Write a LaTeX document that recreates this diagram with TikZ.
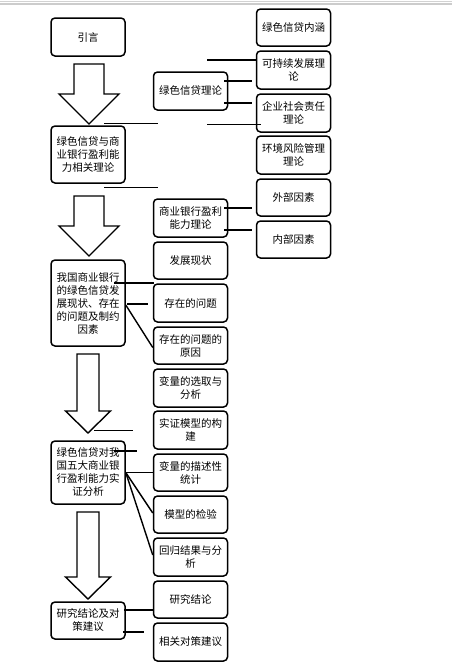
\documentclass[tikz,border=0pt]{standalone}
\usepackage{fontspec}
\setmainfont{Noto Sans CJK SC}
\usetikzlibrary{calc}

\tikzset{
  box/.style={draw, line width=1.5pt, rounded corners=4pt, minimum width=74pt,
    align=center, inner sep=1pt,
    font=\fontsize{10.5pt}{13pt}\selectfont},
  link/.style={line width=1.4pt},
  bigarrow/.style={line width=1.4pt, line join=miter}
}

\begin{document}
\begin{tikzpicture}[x=1pt, y=-1pt]
  \useasboundingbox (0,0) rectangle (452,670);
  % Grey rule at the top.
  \draw[gray!35, line width=1.2pt] (0,1.5) -- (452,1.5);
  \draw[gray!40, line width=1.2pt] (0,4) -- (452,4);

  % Main column.
  \node[box, minimum height=38pt] (yinyan) at (88,37) {引言};
  \node[box, minimum height=57pt] (lilun) at (88,154.5) {绿色信贷与商\\业银行盈利能\\力相关理论};
  \node[box, minimum height=86pt] (xianzhuang) at (88,303) {我国商业银行\\的绿色信贷发\\展现状、存在\\的问题及制约\\因素};
  \node[box, minimum height=63pt] (shizheng) at (88,472.5) {绿色信贷对我\\国五大商业银\\行盈利能力实\\证分析};
  \node[box, minimum height=37pt] (jielun) at (88,620.5) {研究结论及对\\策建议};

  % Middle column.
  \node[box, minimum height=38pt] (lvse) at (190.5,91) {绿色信贷理论};
  \node[box, minimum height=38pt] (shangye) at (190.5,218) {商业银行盈利\\能力理论};
  \node[box, minimum height=37pt] (fazhan) at (190.5,260.5) {发展现状};
  \node[box, minimum height=38pt] (wenti) at (190.5,303) {存在的问题};
  \node[box, minimum height=37pt] (yuanyin) at (190.5,345.5) {存在的问题的\\原因};
  \node[box, minimum height=38pt] (xuanqu) at (190.5,388) {变量的选取与\\分析};
  \node[box, minimum height=38pt] (goujian) at (190.5,430) {实证模型的构\\建};
  \node[box, minimum height=37pt] (miaoshu) at (190.5,472.5) {变量的描述性\\统计};
  \node[box, minimum height=37pt] (jianyan) at (190.5,514.5) {模型的检验};
  \node[box, minimum height=38pt] (huigui) at (190.5,557) {回归结果与分\\析};
  \node[box, minimum height=37pt] (yanjiu) at (190.5,599.5) {研究结论};
  \node[box, minimum height=38pt] (duice) at (190.5,642) {相关对策建议};

  % Right column.
  \node[box, minimum height=37pt] (neihan) at (293.5,27.5) {绿色信贷内涵};
  \node[box, minimum height=38pt] (kechixu) at (293.5,70) {可持续发展理\\论};
  \node[box, minimum height=38pt] (shehui) at (293.5,113) {企业社会责任\\理论};
  \node[box, minimum height=38pt] (huanjing) at (293.5,155) {环境风险管理\\理论};
  \node[box, minimum height=37pt] (waibu) at (293.5,197.5) {外部因素};
  \node[box, minimum height=37pt] (neibu) at (293.5,239.5) {内部因素};

  % Hollow arrows between the main steps.
  \foreach \top/\base/\tip/\cx/\sw/\hw in {64/94/124/89/15/30, 196/226/256/89/15/30,
      354/411/433/88/11/22.5, 512/577/599/88/11/22.5} {
    \draw[bigarrow] (\cx-\sw,\top) -- (\cx+\sw,\top) -- (\cx+\sw,\base) -- (\cx+\hw,\base)
      -- (\cx,\tip) -- (\cx-\hw,\base) -- (\cx-\sw,\base) -- cycle;
  }

  % Connecting lines.
  \draw[link] ([yshift=10pt]kechixu.west) -- ++(-49,0);
  \draw[link] ([xshift=-4pt,yshift=10pt]lvse.east) -- ++(28,0);
  \draw[link] ([xshift=-4pt,yshift=-12pt]lvse.east) -- ++(28,0);
  \draw[link] ([xshift=16pt,yshift=2pt]lilun.north) -- ++(54,0);
  \draw[link] ([xshift=5pt,yshift=8pt]shehui.south west) -- ++(-54,0);
  \draw[link] ([xshift=16pt,yshift=-4pt]lilun.south) -- ++(54,0);
  \draw[link] ([xshift=-4pt,yshift=10pt]shangye.east) -- ++(28,0);
  \draw[link] ([xshift=-4pt,yshift=-12pt]shangye.east) -- ++(28,0);
  \draw[link] ([xshift=-12pt,yshift=20pt]xianzhuang.east) -- ++(40,0);
  \draw[link] ([xshift=1pt,yshift=-1pt]xianzhuang.east) -- ++(21,0);
  \draw[link] ([yshift=-2pt]xianzhuang.east) -- ([yshift=-2pt]yuanyin.west);
  \draw[link] ([xshift=6pt,yshift=10pt]shizheng.north) -- ++(39,0);
  \draw[link] ([xshift=-12pt,yshift=21.5pt]shizheng.east) -- ++(23,0);
  \draw[link] (shizheng.east) -- (miaoshu.west);
  \draw[link] (shizheng.east) -- ([yshift=1.5pt]jianyan.west);
  \draw[link] (shizheng.east) -- ([yshift=2pt]huigui.west);
  \draw[link] ([xshift=-2pt,yshift=10.5pt]jielun.east) -- ++(30,0);
  \draw[link] ([xshift=-3pt,yshift=-11.5pt]jielun.east) -- ++(21,0);
\end{tikzpicture}
\end{document}
